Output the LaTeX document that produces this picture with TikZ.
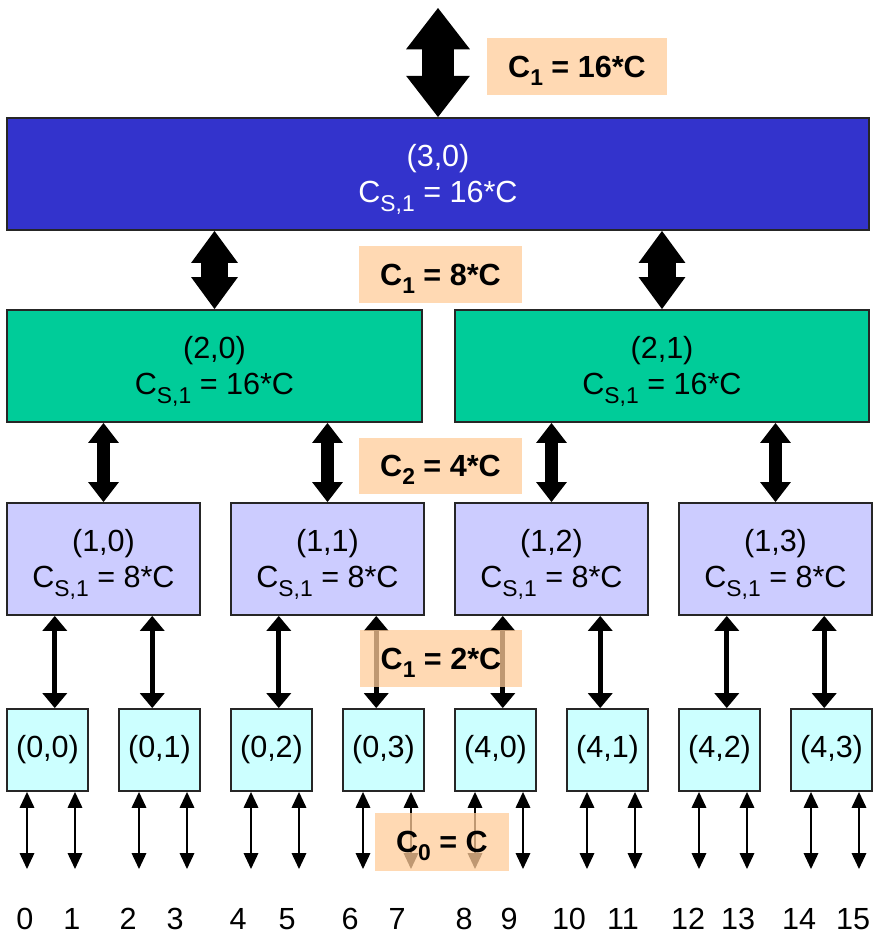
\documentclass[tikz,border=0pt]{standalone}
\usepackage{fontspec}
\setmainfont{Liberation Sans}
\usetikzlibrary{arrows.meta,calc}
\definecolor{rootblue}{RGB}{51,51,204}
\definecolor{midgreen}{RGB}{0,204,153}
\definecolor{lowlilac}{RGB}{204,204,255}
\definecolor{leafcyan}{RGB}{204,255,255}
\definecolor{capfill}{RGB}{255,204,153}
% dropped subscript as in C_{S,1}
\newcommand{\lsub}[1]{\raisebox{-4.6pt}[0pt][0pt]{\fontsize{13}{13}\selectfont#1}}
\tikzset{
  box/.style={draw=black!85,line width=1.1pt,inner sep=0pt,align=center,font=\fontsize{17.4}{20.5}\selectfont},
  capbox/.style={fill=capfill,fill opacity=0.75,text opacity=1,inner sep=0pt,font=\fontsize{17.4}{20.5}\selectfont\bfseries},
  bus/.style={line width=18.2pt,{Triangle[width=36.4pt,length=23.5pt,line width=0pt]}-{Triangle[width=36.4pt,length=23.5pt,line width=0pt]}},
  trunk/.style={line width=15.4pt,{Triangle[width=26.7pt,length=18.2pt,line width=0pt]}-{Triangle[width=26.7pt,length=18.2pt,line width=0pt]}},
  link/.style={line width=7.4pt,{Triangle[width=17.6pt,length=11.4pt,line width=0pt]}-{Triangle[width=17.6pt,length=11.4pt,line width=0pt]}},
  wire/.style={line width=2.8pt,{Triangle[width=14.2pt,length=8.5pt,line width=0pt]}-{Triangle[width=14.2pt,length=8.5pt,line width=0pt]}},
  pin/.style={line width=1.7pt,{Triangle[width=8.5pt,length=9pt,line width=0pt]}-{Triangle[width=8.5pt,length=9pt,line width=0pt]}},
}
\begin{document}
\begin{tikzpicture}[x=0.02cm,y=-0.02cm]
\useasboundingbox (0,0) rectangle (876,934);
% tree of caches
\node[box,fill=rootblue,text=white,minimum width=17.24cm,minimum height=2.24cm] (n30) at (438,174) {(3,0)\\C\lsub{S,1} = 16*C};
\node[box,fill=midgreen,minimum width=8.3cm,minimum height=2.24cm] (n20) at (214.5,366) {(2,0)\\C\lsub{S,1} = 16*C};
\node[box,fill=midgreen,minimum width=8.28cm,minimum height=2.24cm] (n21) at (662,366) {(2,1)\\C\lsub{S,1} = 16*C};
\foreach \k in {0,...,3}
  \node[box,fill=lowlilac,minimum width=3.86cm,minimum height=2.24cm] (n1\k) at (103.5+224*\k,559) {(1,\k)\\C\lsub{S,1} = 8*C};
\foreach \k in {0,...,7}{
  \pgfmathtruncatemacro{\r}{\k<4 ? 0 : 4}
  \pgfmathtruncatemacro{\c}{mod(\k,4)}
  \node[box,fill=leafcyan,minimum width=1.62cm,minimum height=1.64cm] (leaf\k) at (47.5+112*\k,750) {(\r,\c)};
}
% links between levels
\coordinate (ext) at (438,8);
\draw[bus] (ext) -- (n30.north);
\foreach \m in {0,1}
  \draw[trunk] (n2\m.north |- n30.south) -- (n2\m.north);
\foreach \k in {0,...,3}{
  \pgfmathtruncatemacro{\m}{\k/2}
  \draw[link] (n1\k.north |- n2\m.south) -- (n1\k.north);
}
\foreach \k in {0,...,7}{
  \pgfmathtruncatemacro{\m}{\k/2}
  \pgfmathsetmacro{\f}{mod(\k,2)==0 ? 0.25 : 0.75}
  \coordinate (q\k) at ($(n1\m.south west)!\f!(n1\m.south east)$);
  \draw[wire] (q\k) -- (q\k |- leaf\k.north);
  \coordinate (pa\k) at ($(leaf\k.south)+(-20.5,77)$);
  \coordinate (pb\k) at ($(leaf\k.south)+(27.5,77)$);
  \draw[pin] (pa\k |- leaf\k.south) -- (pa\k);
  \draw[pin] (pb\k |- leaf\k.south) -- (pb\k);
}
\foreach \x [count=\i from 0] in {25,72,128,175,238,287,350,397,464,509,569,623,688,738,799,853}
  \node[font=\fontsize{17.4}{20.5}\selectfont] (num\i) at (\x,919) {\i};
% capacities
\node[capbox,minimum width=3.6cm,minimum height=1.14cm] (c3) at (577,66.5) {C\lsub{1} = 16*C};
\node[capbox,minimum width=3.26cm,minimum height=1.14cm] (c2) at (440.5,274.5) {C\lsub{1} = 8*C};
\node[capbox,minimum width=3.26cm,minimum height=1.12cm] (c1) at (440.5,466) {C\lsub{2} = 4*C};
\node[capbox,minimum width=3.26cm,minimum height=1.14cm] (c1b) at (441,658.5) {C\lsub{1} = 2*C};
\node[capbox,minimum width=2.68cm,minimum height=1.16cm] (c0) at (442,842) {C\lsub{0} = C};
\end{tikzpicture}
\end{document}
